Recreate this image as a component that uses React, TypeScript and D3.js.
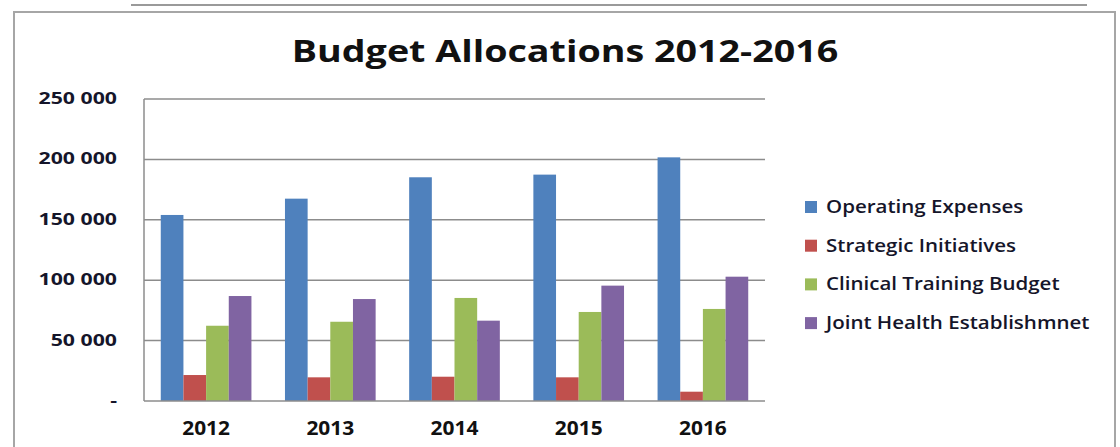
import React from 'react';
import * as d3 from 'd3';

const years = ['2012', '2013', '2014', '2015', '2016'];
const seriesNames = ['Operating Expenses', 'Strategic Initiatives', 'Clinical Training Budget', 'Joint Health Establishmnet'];
const operating = [154000, 167500, 185200, 187400, 201700];
const strategic = [21500, 19600, 20100, 19600, 7700];
const clinical = [62300, 65600, 85300, 73700, 76200];
const joint = [86900, 84400, 66500, 95500, 102900];
const yTicks = [0, 50000, 100000, 150000, 200000, 250000];
const colors = ['#4F81BD', '#C0504D', '#9BBB59', '#8064A2'];

const series = [operating, strategic, clinical, joint];

const W = 1120;
const H = 447;
const plot = {left: 144, right: 765, top: 99, bottom: 401};
const font = '"Open Sans", Lato, sans-serif';

const fmt = d3.formatLocale({decimal: '.', thousands: ' ', grouping: [3], currency: ['', '']}).format(',d');

// the source picture is a stretched screenshot, so text gets a horizontal scale
const Txt = ({x, y, sx = 1, size, weight = 700, anchor = 'start', fill = '#15152a', children}) => (
    <text transform={`translate(${x},${y}) scale(${sx},1)`} textAnchor={anchor}
        fontFamily={font} fontWeight={weight} fontSize={size} fill={fill}>
        {children}
    </text>
);

const App = () => {
    const x = d3.scaleBand().domain(years).range([plot.left, plot.right]).paddingInner(0.27).paddingOuter(0.135);
    const x1 = d3.scaleBand().domain(seriesNames).range([0, x.bandwidth()]);
    const y = d3.scaleLinear().domain([0, 250000]).range([plot.bottom, plot.top]);

    return (
        <svg width={W} height={H} style={{position: 'absolute', left: 0, top: 0, background: '#fff'}}>
            <line x1={131} x2={1087} y1={5} y2={5} stroke='#9a9a9a' strokeWidth={2} />
            <path d={`M14,${H + 5} V12 H1115 V${H + 5}`} fill='none' stroke='#a6a6a6' strokeWidth={2} />
            <Txt x={565} y={62} sx={1.255} size={30} anchor='middle' fill='#111'>Budget Allocations 2012-2016</Txt>

            {yTicks.map(t => (
                <g key={t}>
                    {t > 0 && <line x1={plot.left} x2={plot.right} y1={y(t)} y2={y(t)} stroke='#8c8c8c' strokeWidth={1.5} />}
                    <Txt x={117} y={y(t) + 5} sx={1.33} size={16} anchor='end'>
                        {t === 0 ? '-' : fmt(t)}
                    </Txt>
                </g>
            ))}

            {years.map((yr, i) => (
                <g key={yr} transform={`translate(${x(yr)},0)`}>
                    {series.map((s, j) => (
                        <rect key={j} x={x1(seriesNames[j])} width={x1.bandwidth()} y={y(s[i])} height={y(0) - y(s[i])} fill={colors[j]} />
                    ))}
                </g>
            ))}

            <line x1={plot.left} x2={plot.left} y1={plot.top} y2={plot.bottom} stroke='#8c8c8c' strokeWidth={1.5} />
            <line x1={plot.left} x2={plot.right} y1={plot.bottom} y2={plot.bottom} stroke='#8c8c8c' strokeWidth={1.5} />

            {years.map(yr => (
                <Txt key={yr} x={x(yr) + x.bandwidth() / 2} y={435} sx={1.1} size={19} anchor='middle' fill='#111'>
                    {yr}
                </Txt>
            ))}

            {seriesNames.map((name, j) => (
                <g key={name} transform={`translate(805,${207 + j * 38.7})`}>
                    <rect x={0} y={-6} width={12} height={12} fill={colors[j]} />
                    <Txt x={21} y={6} sx={1.14} size={18} weight={600}>{name}</Txt>
                </g>
            ))}
        </svg>
    );
};

export default App;
